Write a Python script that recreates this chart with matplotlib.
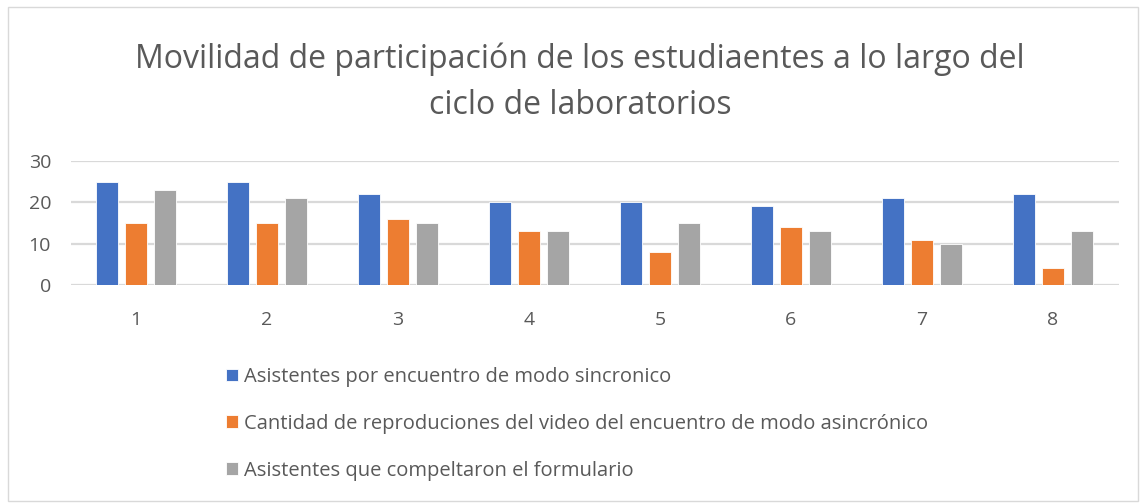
import numpy as np
import matplotlib.pyplot as plt
from matplotlib.patches import Rectangle

plt.rcParams["font.family"] = ["Open Sans", "DejaVu Sans"]

TEXT = "#595959"
GRID = "#D9D9D9"
COLORS = ["#4472C4", "#ED7D31", "#A5A5A5"]

# datos
labs = ["1", "2", "3", "4", "5", "6", "7", "8"]
sincronico = [25, 25, 22, 20, 20, 19, 21, 22]
reproducciones = [15, 15, 16, 13, 8, 14, 11, 4]
formulario = [23, 21, 15, 13, 15, 13, 10, 13]
series_names = [
    "Asistentes por encuentro de modo sincronico",
    "Cantidad de reproduciones del video del encuentro de modo asincrónico",
    "Asistentes que compeltaron el formulario",
]
title = "Movilidad de participación de los estudiaentes a lo largo del\nciclo de laboratorios"

fig = plt.figure(figsize=(11.46, 5.04), dpi=100, facecolor="white")
ax = fig.add_axes([70.5 / 1146, 1 - 285 / 504, (1118.5 - 70.5) / 1146, (285 - 161) / 504])

x = np.arange(len(labs))
w = 0.172
step = 0.222
handles = []
for i, (vals, c) in enumerate(zip([sincronico, reproducciones, formulario], COLORS)):
    b = ax.bar(x + (i - 1) * step, vals, width=w, color=c, edgecolor="white",
               linewidth=0.6, zorder=3, label=series_names[i])
    handles.append(b)

ax.set_xlim(-0.5, len(labs) - 0.5)
ax.set_ylim(0, 30)
ax.set_yticks([0, 10, 20, 30])
ax.set_xticks(x)
ax.set_xticklabels(labs)
ax.yaxis.grid(True, color=GRID, linewidth=1.6, zorder=0)
ax.tick_params(axis="both", length=0, colors=TEXT, labelsize=14)
ax.tick_params(axis="x", pad=19)
ax.tick_params(axis="y", pad=14)
for spine in ax.spines.values():
    spine.set_visible(False)

fig.text(0.506, 1 - 42 / 504, title, ha="center", va="top", fontsize=23,
         color=TEXT, linespacing=1.55)

fig.legend(handles=handles, loc="upper left", bbox_to_anchor=(226 / 1146, 1 - 367 / 504),
           frameon=False, fontsize=14.5, labelcolor=TEXT, handlelength=0.6,
           handleheight=0.6, handletextpad=0.3, labelspacing=1.33, borderpad=0,
           borderaxespad=0)

fig.add_artist(Rectangle((8 / 1146, 3 / 504), 1130 / 1146, 494 / 504,
                         transform=fig.transFigure, fill=False, edgecolor=GRID, linewidth=1))

plt.savefig("out.png", dpi=100)
plt.close()
